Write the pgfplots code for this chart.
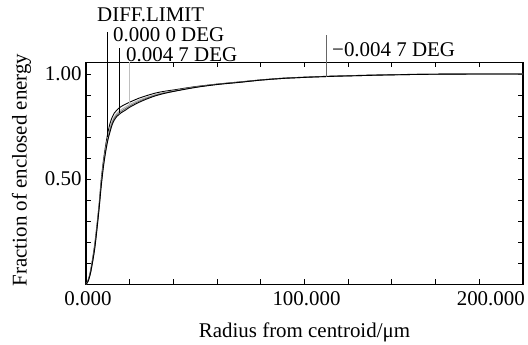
\documentclass[border=0pt]{standalone}
\usepackage{fontspec}
\setmainfont{Liberation Serif}
\usepackage{pgfplots}
\pgfplotsset{compat=1.18}
\begin{document}
\begin{tikzpicture}[font=\fontsize{21}{25}\selectfont]
\useasboundingbox (-86bp,-60.7bp) rectangle (442bp,284.3bp);
\begin{axis}[
  at={(0,0)}, anchor=south west,
  scale only axis, width=437bp, height=222bp,
  xmin=0, xmax=200, ymin=0, ymax=1.0557,
  clip=false,
  axis line style={line width=1.1pt},
  /pgf/number format/assume math mode=true,
  xtick={0,100}, extra x ticks={200},
  minor xtick={20,40,60,80,120,140,160,180},
  ytick={0.5,1.0},
  minor ytick={0.1,0.2,0.3,0.4,0.6,0.7,0.8,0.9},
  major tick length=5bp, minor tick length=5bp,
  every tick/.style={line width=0.9pt, black},
  xticklabel={\pgfmathprintnumber[fixed,fixed zerofill,precision=3,assume math mode=true]{\tick}},
  yticklabel={\pgfmathprintnumber[fixed,fixed zerofill,precision=2,assume math mode=true]{\tick}},
  xticklabel style={anchor=north, inner sep=0pt, yshift=-7bp, xshift=2bp},
  extra x tick style={xticklabel style={anchor=north east, xshift=0pt}},
  yticklabel style={anchor=east, inner sep=0pt, xshift=-4.3bp},
  xlabel={Radius from centroid/μm},
  ylabel={Fraction of enclosed energy},
  xlabel style={at={(axis description cs:0.5,-0.2374)}, anchor=base, inner sep=0pt},
  ylabel style={at={(axis description cs:-0.1357,0.515)}, anchor=base, inner sep=0pt},
]
% diffraction limit (upper black)
\addplot[black, line width=0.9pt, smooth] coordinates {
(0,0) (1,0.02) (2,0.06) (3,0.12) (4,0.19) (5,0.28) (6,0.38) (7,0.50) (8,0.59)
(9,0.66) (10,0.72) (11,0.765) (12,0.795) (13,0.815) (15,0.837) (17,0.851)
(20,0.866) (24,0.884) (28,0.898) (32,0.91) (36,0.918) (40,0.924) (50,0.940)
(60,0.952) (70,0.962) (80,0.972) (90,0.980) (100,0.985) (110,0.989) (120,0.992)
(140,0.997) (160,0.999) (180,1.0) (200,1.0)};
% 0.0047 deg (gray, middle)
\addplot[black!30, line width=0.9pt, smooth] coordinates {
(0,0) (1,0.017) (2,0.055) (3,0.11) (4,0.18) (5,0.27) (6,0.37) (7,0.485) (8,0.575)
(9,0.645) (10,0.70) (11,0.745) (12,0.775) (13,0.797) (14,0.812) (16,0.83)
(20,0.855) (24,0.875) (28,0.89) (32,0.903) (36,0.913) (40,0.92) (50,0.938)
(60,0.951) (70,0.961) (80,0.971) (90,0.979) (100,0.984) (110,0.988) (120,0.991)
(140,0.996) (160,0.999) (180,1.0) (200,1.0)};
% -0.0047 deg (dark gray)
\addplot[black!55, line width=0.9pt, smooth] coordinates {
(0,0) (1,0.016) (2,0.052) (3,0.107) (4,0.175) (5,0.265) (6,0.365) (7,0.478) (8,0.567)
(9,0.637) (10,0.692) (11,0.735) (12,0.768) (13,0.79) (14,0.805) (16,0.822)
(20,0.848) (24,0.869) (28,0.886) (32,0.9) (36,0.91) (40,0.918) (50,0.937)
(60,0.951) (70,0.961) (80,0.971) (90,0.979) (100,0.984) (110,0.988) (120,0.991)
(140,0.996) (160,0.999) (180,1.0) (200,1.0)};
% 0.0000 deg (lower black)
\addplot[black, line width=0.9pt, smooth] coordinates {
(0,0) (1,0.015) (2,0.05) (3,0.105) (4,0.17) (5,0.26) (6,0.36) (7,0.47) (8,0.56)
(9,0.63) (10,0.685) (11,0.725) (12,0.76) (13,0.782) (14,0.797) (16,0.815)
(18,0.828) (20,0.842) (24,0.864) (28,0.882) (32,0.897) (36,0.908) (40,0.917)
(50,0.936) (60,0.950) (70,0.960) (80,0.971) (90,0.979) (100,0.984) (110,0.988)
(120,0.991) (140,0.996) (160,0.999) (180,1.0) (200,1.0)};
% label lines
\addplot[black, line width=0.9pt] coordinates {(9.9,0.70) (9.9,1.2)};
\addplot[black, line width=0.9pt] coordinates {(15.1,0.815) (15.1,1.1236)};
\addplot[black!25, line width=0.9pt] coordinates {(20.1,0.857) (20.1,1.0557)};
\addplot[black!60, line width=0.9pt] coordinates {(110,0.988) (110,1.185)};
\node[anchor=base west, inner sep=0pt] at (axis cs:5.03,1.249) {DIFF.LIMIT};
\node[anchor=base west, inner sep=0pt] at (axis cs:12.36,1.154) {0.000 0 DEG};
\node[anchor=base west, inner sep=0pt] at (axis cs:18.3,1.059) {0.004 7 DEG};
\node[anchor=base west, inner sep=0pt] at (axis cs:112.6,1.082) {−0.004 7 DEG};
\end{axis}
\end{tikzpicture}
\end{document}
